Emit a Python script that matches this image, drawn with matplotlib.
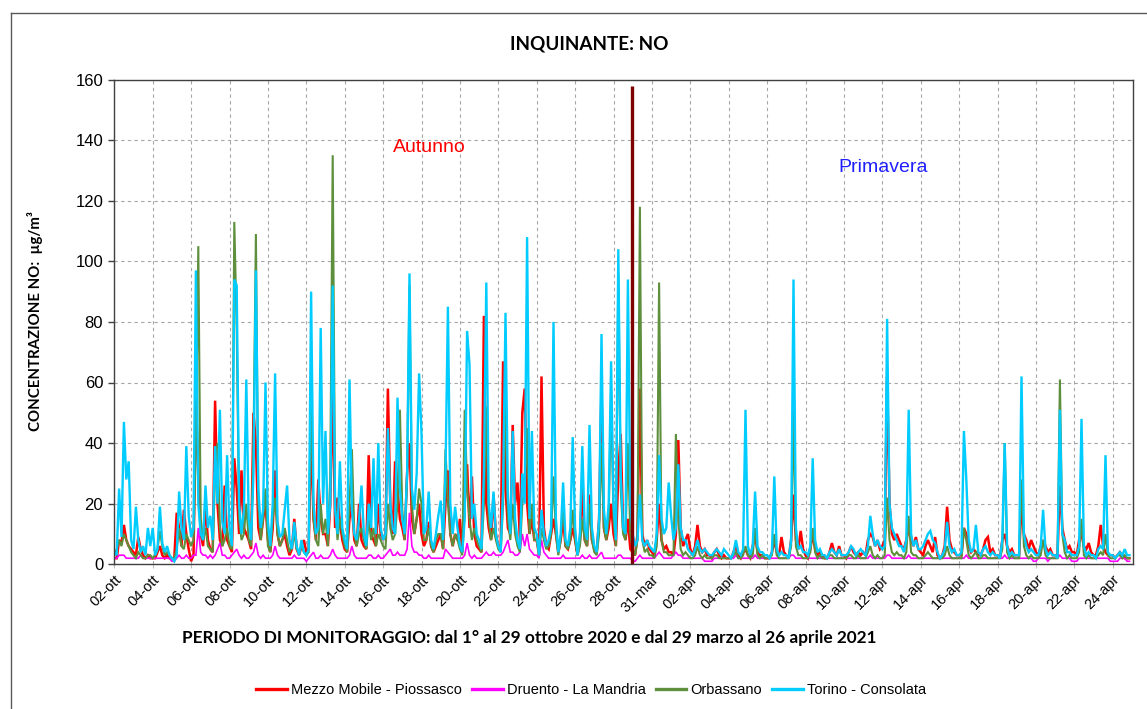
import numpy as np
import matplotlib
matplotlib.use("Agg")
import matplotlib.pyplot as plt
from matplotlib.lines import Line2D

# ---------------- DATA (3-hour samples, 8 per day: 0,3,...,21 h) ----------------
tick_labels = ["02-ott", "04-ott", "06-ott", "08-ott", "10-ott", "12-ott", "14-ott",
               "16-ott", "18-ott", "20-ott", "22-ott", "24-ott", "26-ott", "28-ott",
               "31-mar", "02-apr", "04-apr", "06-apr", "08-apr", "10-apr", "12-apr",
               "14-apr", "16-apr", "18-apr", "20-apr", "22-apr", "24-apr"]

series_names = ["Mezzo Mobile - Piossasco", "Druento - La Mandria", "Orbassano", "Torino - Consolata"]

piossasco = [
    2, 2, 8, 7, 13, 8, 6, 5,
    4, 3, 9, 5, 3, 2, 3, 2,
    2, 2, 4, 6, 3, 2, 3, 2,
    2, 2, 17, 12, 6, 18, 10, 5,
    1, 3, 54, 30, 10, 6, 20, 8,
    5, 4, 54, 20, 8, 6, 26, 8,
    6, 4, 35, 25, 10, 31, 12, 10,
    8, 5, 50, 40, 12, 8, 15, 20,
    8, 4, 12, 31, 10, 6, 8, 10,
    6, 3, 5, 15, 5, 3, 6, 8,
    4, 5, 44, 15, 8, 28, 15, 10,
    10, 6, 20, 60, 12, 22, 14, 8,
    5, 4, 15, 20, 8, 6, 20, 8,
    6, 5, 36, 10, 8, 6, 20, 10,
    8, 10, 58, 20, 10, 34, 25, 15,
    12, 8, 30, 40, 15, 10, 15, 20,
    10, 6, 8, 14, 6, 4, 6, 8,
    10, 5, 20, 31, 10, 6, 10, 8,
    15, 4, 20, 33, 12, 29, 10, 6,
    5, 4, 82, 20, 12, 8, 23, 10,
    6, 5, 67, 25, 12, 10, 46, 20,
    27, 8, 50, 58, 20, 10, 15, 8,
    8, 3, 62, 12, 6, 5, 10, 15,
    10, 4, 8, 15, 6, 5, 8, 12,
    8, 3, 8, 26, 8, 6, 23, 8,
    5, 4, 15, 58, 12, 8, 12, 20,
    10, 6, 30, 43, 12, 8, 15, 5,
    4, 3, 10, 58, 10, 6, 8, 5,
    4, 3, 8, 20, 8, 5, 6, 4,
    4, 3, 10, 41, 12, 6, 8, 10,
    5, 3, 6, 13, 6, 4, 5, 3,
    3, 2, 4, 5, 3, 2, 3, 2,
    2, 2, 4, 6, 3, 2, 4, 5,
    3, 2, 6, 10, 4, 3, 3, 2,
    2, 2, 4, 8, 4, 3, 9, 4,
    3, 2, 8, 23, 8, 5, 11, 5,
    3, 2, 5, 10, 5, 3, 4, 3,
    2, 2, 4, 7, 4, 3, 6, 3,
    3, 2, 4, 6, 4, 3, 4, 3,
    4, 3, 8, 10, 9, 6, 8, 5,
    6, 8, 62, 20, 10, 8, 10, 8,
    6, 5, 8, 12, 8, 6, 9, 5,
    4, 3, 6, 8, 6, 4, 9, 3,
    2, 3, 6, 19, 8, 5, 4, 3,
    3, 3, 12, 10, 6, 4, 5, 4,
    3, 3, 5, 8, 9, 4, 5, 3,
    3, 2, 8, 10, 6, 4, 5, 3,
    3, 3, 20, 10, 8, 5, 8, 6,
    4, 3, 6, 8, 6, 4, 5, 3,
    3, 3, 26, 12, 8, 5, 6, 4,
    4, 3, 8, 10, 6, 5, 7, 4,
    3, 3, 6, 13, 6, 4, 3, 3,
    3, 2, 3, 4, 3, 2, 2, 2,
]

druento = [
    2, 2, 3, 3, 3, 2, 2, 2,
    2, 2, 2, 3, 2, 2, 2, 2,
    2, 2, 2, 2, 2, 2, 2, 2,
    1, 1, 2, 3, 2, 2, 3, 2,
    2, 3, 3, 12, 4, 3, 3, 2,
    3, 2, 3, 5, 7, 3, 3, 2,
    2, 3, 4, 5, 3, 2, 3, 2,
    2, 3, 4, 7, 3, 2, 3, 2,
    2, 2, 3, 6, 3, 2, 2, 2,
    2, 2, 2, 3, 2, 2, 2, 2,
    1, 2, 3, 4, 2, 2, 3, 2,
    2, 2, 3, 5, 3, 2, 2, 2,
    2, 2, 3, 6, 3, 2, 2, 2,
    2, 2, 3, 3, 2, 2, 3, 2,
    2, 3, 4, 5, 3, 3, 4, 3,
    3, 3, 5, 17, 6, 4, 4, 3,
    3, 2, 2, 3, 2, 2, 2, 2,
    2, 2, 5, 4, 3, 2, 2, 2,
    2, 2, 3, 7, 3, 2, 3, 2,
    2, 2, 3, 4, 3, 3, 4, 3,
    3, 3, 4, 6, 8, 4, 4, 3,
    3, 4, 10, 6, 10, 5, 4, 3,
    3, 2, 8, 4, 3, 2, 2, 2,
    2, 2, 2, 3, 2, 2, 2, 2,
    2, 2, 2, 3, 2, 2, 3, 2,
    2, 2, 3, 4, 2, 2, 2, 2,
    2, 2, 3, 3, 2, 2, 2, 2,
    1, 1, 2, 3, 2, 2, 2, 2,
    2, 2, 3, 4, 3, 2, 2, 2,
    2, 3, 4, 3, 3, 2, 2, 2,
    2, 2, 2, 2, 2, 2, 1, 1,
    1, 1, 2, 2, 2, 2, 2, 2,
    2, 2, 2, 3, 2, 2, 2, 2,
    2, 2, 2, 3, 2, 2, 2, 2,
    2, 2, 2, 2, 2, 2, 2, 2,
    2, 2, 3, 3, 2, 2, 2, 2,
    2, 2, 2, 2, 2, 2, 2, 2,
    2, 2, 2, 2, 2, 2, 2, 2,
    2, 2, 2, 2, 2, 2, 2, 2,
    2, 2, 2, 3, 2, 2, 2, 2,
    2, 2, 3, 3, 2, 2, 2, 2,
    2, 2, 2, 3, 2, 2, 2, 2,
    2, 2, 2, 2, 2, 2, 2, 2,
    2, 2, 2, 2, 2, 2, 2, 2,
    2, 2, 2, 3, 2, 2, 2, 2,
    2, 2, 2, 2, 2, 2, 2, 2,
    2, 2, 2, 3, 2, 2, 2, 2,
    2, 2, 2, 2, 2, 2, 2, 1,
    1, 2, 2, 2, 2, 1, 2, 2,
    2, 2, 3, 2, 2, 2, 2, 1,
    1, 1, 2, 2, 2, 2, 2, 2,
    2, 2, 2, 2, 2, 2, 2, 1,
    1, 1, 1, 2, 2, 2, 1, 1,
]

orbassano = [
    3, 5, 8, 6, 10, 8, 6, 4,
    3, 2, 4, 3, 2, 2, 3, 3,
    2, 3, 5, 11, 6, 3, 4, 3,
    2, 2, 5, 12, 6, 5, 10, 8,
    6, 8, 40, 105, 15, 8, 12, 6,
    5, 4, 30, 40, 12, 6, 8, 12,
    6, 5, 113, 78, 15, 8, 10, 20,
    8, 6, 40, 109, 20, 8, 15, 25,
    6, 4, 15, 22, 10, 6, 8, 12,
    8, 4, 6, 10, 5, 4, 6, 4,
    3, 4, 59, 15, 8, 6, 20, 10,
    15, 6, 30, 135, 20, 8, 15, 10,
    6, 4, 20, 38, 10, 6, 10, 12,
    8, 5, 15, 8, 12, 6, 10, 8,
    6, 5, 20, 12, 8, 10, 20, 51,
    18, 8, 30, 92, 20, 10, 15, 25,
    20, 8, 8, 12, 6, 4, 8, 10,
    10, 5, 38, 20, 10, 6, 10, 8,
    5, 3, 51, 25, 15, 8, 12, 8,
    6, 4, 20, 52, 15, 8, 12, 8,
    5, 4, 20, 55, 15, 8, 20, 10,
    6, 4, 20, 25, 45, 10, 20, 8,
    8, 3, 12, 8, 5, 6, 10, 29,
    10, 3, 8, 20, 6, 5, 8, 18,
    8, 3, 6, 15, 8, 6, 20, 8,
    4, 3, 10, 40, 12, 8, 15, 57,
    15, 6, 96, 25, 10, 8, 40, 10,
    5, 3, 8, 118, 8, 4, 5, 3,
    3, 2, 6, 93, 8, 4, 4, 3,
    3, 3, 43, 15, 5, 3, 4, 3,
    2, 2, 3, 6, 3, 2, 3, 2,
    2, 2, 3, 3, 2, 2, 2, 2,
    2, 2, 3, 4, 2, 2, 3, 6,
    3, 2, 3, 12, 3, 2, 3, 2,
    2, 2, 3, 10, 3, 2, 2, 2,
    2, 2, 6, 51, 6, 3, 3, 2,
    2, 2, 4, 12, 4, 2, 3, 2,
    2, 2, 3, 3, 2, 2, 2, 2,
    2, 2, 3, 3, 2, 2, 3, 2,
    2, 2, 4, 6, 3, 2, 3, 2,
    2, 3, 22, 8, 4, 3, 4, 3,
    3, 2, 4, 16, 4, 3, 3, 2,
    2, 2, 3, 4, 3, 2, 2, 2,
    2, 2, 3, 6, 3, 2, 2, 2,
    2, 2, 12, 8, 3, 2, 3, 4,
    2, 2, 3, 3, 2, 2, 2, 2,
    2, 2, 5, 40, 4, 2, 3, 2,
    2, 2, 28, 6, 3, 2, 3, 2,
    2, 2, 3, 8, 3, 2, 2, 2,
    2, 2, 61, 10, 4, 2, 3, 2,
    2, 2, 4, 15, 3, 2, 3, 2,
    2, 2, 3, 4, 3, 10, 3, 2,
    2, 2, 3, 3, 2, 3, 2, 2,
]

torino = [
    4, 3, 25, 9, 47, 28, 34, 8,
    5, 19, 8, 4, 6, 3, 12, 6,
    12, 3, 5, 19, 7, 4, 6, 3,
    2, 1, 3, 24, 12, 8, 39, 16,
    9, 12, 97, 20, 10, 8, 26, 12,
    16, 8, 39, 20, 51, 14, 10, 36,
    12, 6, 94, 92, 20, 10, 18, 61,
    15, 8, 30, 97, 25, 12, 18, 60,
    14, 6, 20, 63, 14, 9, 10, 18,
    26, 8, 5, 14, 6, 3, 8, 4,
    3, 5, 90, 20, 10, 12, 78, 20,
    44, 10, 20, 92, 18, 10, 34, 12,
    8, 5, 61, 18, 10, 8, 15, 26,
    10, 6, 20, 12, 35, 10, 40, 12,
    8, 10, 45, 20, 12, 10, 55, 25,
    15, 10, 30, 96, 25, 18, 30, 63,
    43, 10, 12, 24, 8, 5, 10, 16,
    21, 8, 30, 85, 20, 10, 19, 12,
    6, 4, 15, 77, 66, 15, 20, 10,
    8, 5, 30, 93, 20, 12, 24, 10,
    6, 4, 25, 83, 22, 10, 44, 15,
    8, 5, 30, 20, 108, 15, 44, 12,
    10, 3, 18, 10, 6, 8, 12, 80,
    15, 4, 10, 27, 8, 6, 12, 42,
    12, 3, 10, 39, 12, 8, 46, 12,
    6, 4, 15, 76, 18, 10, 20, 67,
    20, 8, 104, 30, 12, 10, 94, 20,
    10, 6, 8, 23, 8, 6, 8, 6,
    5, 4, 10, 36, 15, 10, 12, 27,
    16, 8, 12, 33, 12, 8, 8, 5,
    4, 3, 5, 8, 5, 4, 5, 4,
    3, 3, 4, 5, 4, 3, 5, 4,
    3, 2, 4, 8, 4, 3, 5, 51,
    6, 3, 6, 24, 6, 4, 4, 3,
    3, 2, 4, 29, 5, 3, 4, 3,
    3, 2, 8, 94, 12, 5, 6, 4,
    4, 3, 6, 35, 8, 4, 5, 3,
    3, 2, 4, 5, 4, 3, 5, 3,
    3, 3, 4, 6, 5, 3, 4, 5,
    4, 3, 6, 16, 10, 6, 8, 6,
    5, 6, 81, 20, 12, 10, 8, 6,
    6, 4, 8, 51, 10, 6, 8, 5,
    5, 6, 8, 10, 11, 8, 7, 4,
    2, 3, 5, 14, 6, 4, 5, 3,
    3, 4, 44, 28, 8, 4, 5, 13,
    4, 3, 5, 6, 4, 3, 4, 3,
    3, 2, 8, 40, 6, 3, 4, 3,
    3, 3, 62, 10, 6, 4, 5, 4,
    3, 3, 6, 18, 5, 3, 4, 3,
    3, 2, 51, 10, 8, 4, 4, 3,
    3, 3, 6, 48, 6, 3, 4, 3,
    3, 2, 5, 6, 5, 36, 4, 3,
    3, 2, 3, 4, 3, 5, 3, 3,
]

# season separator (hour index, value)
separator_hour = 647
separator_value = 158

# ---------------- PLOT ----------------
W, H = 1147, 709
fig = plt.figure(figsize=(W / 100, H / 100), dpi=100)
ax = fig.add_axes([114.3 / W, 1 - 564.3 / H, (1132.7 - 114.3) / W, (564.3 - 79.5) / H])

step = 3
hours = np.arange(len(torino)) * step

colors = ["#FF0000", "#FF00FF", "#5E8F3C", "#00CCFF"]
data = [piossasco, druento, orbassano, torino]
widths = [1.8, 1.2, 1.5, 1.7]
for name, vals, c, lw in zip(series_names, data, colors, widths):
    ax.plot(hours, vals, color=c, lw=lw, label=name, solid_joinstyle="miter")

ax.plot([separator_hour, separator_hour], [0, separator_value], color="#7F0000", lw=2.4,
        solid_capstyle="butt")

ax.set_xlim(0, 1273)
ax.set_ylim(0, 160)
ax.set_yticks(np.arange(0, 161, 20))
tick_pos = np.arange(len(tick_labels)) * 48
ax.set_xticks(tick_pos)
ax.set_xticklabels(tick_labels, rotation=45, ha="right", rotation_mode="anchor",
                   fontsize=10.5, family="Liberation Sans")
for lab in ax.get_yticklabels():
    lab.set_family("Liberation Sans")
    lab.set_fontsize(12)
ax.tick_params(axis="y", direction="out", length=4, width=1, color="#404040", pad=4)
ax.tick_params(axis="x", direction="out", length=3, width=0.8, color="#BFBFBF", pad=3)

ax.grid(True, color="#A6A6A6", linestyle=(0, (3, 3)), linewidth=0.8)
ax.set_axisbelow(True)
for s in ax.spines.values():
    s.set_color("#404040")
    s.set_linewidth(1.0)

# Season annotations
ax.text(348, 137.4, "Autunno", color="#FF0000", fontsize=14, family="Liberation Sans",
        va="center", ha="left")
ax.text(905, 131.0, "Primavera", color="#1F1FFF", fontsize=14, family="Liberation Sans",
        va="center", ha="left")

# Titles
fig.text(589 / W, 1 - 44 / H, "INQUINANTE: NO", ha="center", va="center",
         fontsize=13.6, fontweight="bold", family="Lato")
fig.text(529 / W, 1 - 638 / H,
         "PERIODO DI MONITORAGGIO: dal 1° al 29 ottobre 2020 e dal 29 marzo al 26 aprile 2021",
         ha="center", va="center", fontsize=12.4, fontweight="bold", family="Lato")
fig.text(35 / W, 1 - 321 / H, "CONCENTRAZIONE NO:  µg/m³", ha="center", va="center",
         rotation=90, fontsize=10.8, fontweight="bold", family="Lato")

# Legend
handles = [Line2D([0], [0], color=c, lw=2.4) for c in colors]
fig.legend(handles, series_names, loc="center", bbox_to_anchor=(591 / W, 1 - 690 / H),
           ncol=4, frameon=False, prop={"family": "Liberation Sans", "size": 10.5},
           handlelength=2.1, handletextpad=0.27, columnspacing=0.7)

# Outer chart border
fig.add_artist(Line2D([10.5 / W, 10.5 / W], [0, 1 - 13.3 / H], color="#595959", lw=1.0,
                      transform=fig.transFigure))
fig.add_artist(Line2D([10.5 / W, 1.0], [1 - 13.3 / H, 1 - 13.3 / H], color="#595959", lw=1.0,
                      transform=fig.transFigure))

fig.savefig("out.png", dpi=100)
